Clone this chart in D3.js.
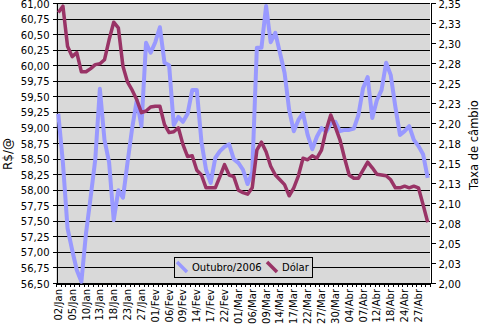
<!DOCTYPE html>
<html><head><meta charset="utf-8">
<script src="https://cdn.jsdelivr.net/npm/d3@7"></script>
<style>body{margin:0;background:#fff} svg{display:block} text{font-family:"DejaVu Sans",Verdana,sans-serif;fill:#000}</style>
</head><body><svg id="c" width="480" height="324"></svg>
<script>
const dates = ["02/Jan","03/Jan","04/Jan","05/Jan","06/Jan","09/Jan","10/Jan","11/Jan","12/Jan","13/Jan","16/Jan","17/Jan","18/Jan","19/Jan","20/Jan","23/Jan","24/Jan","26/Jan","27/Jan","30/Jan","31/Jan",
"01/Fev","02/Fev","03/Fev","06/Fev","07/Fev","08/Fev","09/Fev","10/Fev","13/Fev","14/Fev","15/Fev","16/Fev","17/Fev","20/Fev","21/Fev","22/Fev","23/Fev","24/Fev",
"01/Mar","02/Mar","03/Mar","06/Mar","07/Mar","08/Mar","09/Mar","10/Mar","13/Mar","14/Mar","15/Mar","16/Mar","17/Mar","20/Mar","21/Mar","22/Mar","23/Mar","24/Mar","27/Mar","28/Mar","29/Mar","30/Mar","31/Mar",
"03/Abr","04/Abr","05/Abr","06/Abr","07/Abr","10/Abr","11/Abr","12/Abr","13/Abr","17/Abr","18/Abr","19/Abr","20/Abr","24/Abr","25/Abr","26/Abr","27/Abr","28/Abr",
"02/Mai"];

const outubro = [59.22,58.43,57.38,57.03,56.71,56.52,57.30,57.88,58.48,59.62,58.80,58.44,57.51,57.99,57.87,58.44,58.99,59.44,59.02,60.36,
60.20,60.37,60.61,60.04,60.00,59.04,59.17,59.09,59.22,59.60,59.60,58.77,58.32,58.11,58.51,58.62,58.69,58.73,58.49,58.43,
58.32,58.09,58.28,60.28,60.28,60.95,60.37,60.52,60.20,59.88,59.28,58.94,59.12,59.23,58.88,58.65,58.85,58.99,58.93,59.06,
59.09,58.94,58.96,58.96,58.98,59.20,59.63,59.81,59.15,59.44,59.60,60.04,59.84,59.33,58.88,58.94,59.02,58.80,58.70,58.57,
58.19];

const dolar = [2.338,2.346,2.296,2.283,2.288,2.264,2.264,2.268,2.273,2.274,2.279,2.304,2.326,2.319,2.271,2.251,2.241,2.229,2.213,2.215,
2.220,2.221,2.221,2.198,2.188,2.189,2.194,2.173,2.158,2.159,2.141,2.135,2.119,2.119,2.119,2.133,2.148,2.135,2.133,2.116,
2.113,2.111,2.119,2.166,2.176,2.164,2.146,2.135,2.129,2.123,2.109,2.119,2.134,2.156,2.154,2.159,2.156,2.166,2.191,2.210,
2.195,2.179,2.156,2.135,2.131,2.131,2.141,2.151,2.144,2.136,2.135,2.134,2.129,2.119,2.119,2.121,2.119,2.121,2.119,2.098,
2.076];

const leftTicks = [56.5,56.75,57,57.25,57.5,57.75,58,58.25,58.5,58.75,59,59.25,59.5,59.75,60,60.25,60.5,60.75,61];
const rightTicks = [2.000,2.025,2.050,2.075,2.100,2.125,2.150,2.175,2.200,2.225,2.250,2.275,2.300,2.325,2.350];
const rightTickLabels = ["2,00","2,03","2,05","2,08","2,10","2,13","2,15","2,18","2,20","2,23","2,25","2,28","2,30","2,33","2,35"];
const seriesNames = ["Outubro/2006","Dólar"];
const seriesColors = ["#9999FF","#993366"];

const svg = d3.select("#c");
const L = 56, R = 430, T = 3, B = 283;
const x = d3.scaleBand().domain(dates).range([L, R]).padding(0);
const bw = x.bandwidth();
const yL = d3.scaleLinear().domain([56.5, 61]).range([B, T]);
const yR = d3.scaleLinear().domain([2.0, 2.35]).range([B, T]);
const cx = d => x(d) + bw / 2;

// plot background
svg.append("rect").attr("x", L).attr("y", T).attr("width", R - L).attr("height", B - T).attr("fill", "#d9d9d9");

// gridlines
svg.append("g").selectAll("line").data(leftTicks).join("line")
  .attr("x1", L).attr("x2", R)
  .attr("y1", d => Math.round(yL(d)) + 0.5).attr("y2", d => Math.round(yL(d)) + 0.5)
  .attr("stroke", "#000").attr("stroke-width", 1).attr("shape-rendering", "crispEdges");

// left axis
const fmtL = d => d3.format(".2f")(d).replace(".", ",");
const gl = svg.append("g").attr("transform", `translate(${L + 0.5},0)`)
  .call(d3.axisLeft(yL).tickValues(leftTicks).tickFormat(fmtL).tickSize(4).tickPadding(3));
gl.selectAll("text").attr("font-size", 10).attr("font-family", "DejaVu Sans").attr("dy", "0.4em");
gl.selectAll("line,path").attr("stroke", "#000").attr("shape-rendering", "crispEdges");

// right axis
const gr = svg.append("g").attr("transform", `translate(${R + 0.5},0)`)
  .call(d3.axisRight(yR).tickValues(rightTicks).tickFormat((d, i) => rightTickLabels[i]).tickSize(5).tickPadding(3));
gr.selectAll("text").attr("font-size", 10).attr("font-family", "DejaVu Sans").attr("dy", "0.4em");
gr.selectAll("line,path").attr("stroke", "#000").attr("shape-rendering", "crispEdges");

// bottom axis
const gb = svg.append("g").attr("transform", `translate(0,${B + 0.5})`)
  .call(d3.axisBottom(x).tickSize(0).tickPadding(0).tickFormat(""));
gb.select("path").attr("stroke", "#000").attr("shape-rendering", "crispEdges");
gb.selectAll(".tick").remove();
const bounds = dates.map(d => x(d)).concat([R]);
svg.append("g").selectAll("line").data(bounds).join("line")
  .attr("x1", d => Math.round(d) + 0.5).attr("x2", d => Math.round(d) + 0.5)
  .attr("y1", B).attr("y2", B + 4).attr("stroke", "#000").attr("shape-rendering", "crispEdges");
svg.append("g").selectAll("text").data(dates.filter((d, i) => i % 3 === 0)).join("text")
  .attr("transform", d => `translate(${cx(d)},${B + 6}) rotate(-90)`)
  .attr("text-anchor", "end").attr("dy", "0.35em").attr("font-size", 10).text(d => d);

// lines
const lineL = d3.line().x((d, i) => cx(dates[i])).y(d => yL(d));
const lineR = d3.line().x((d, i) => cx(dates[i])).y(d => yR(d));
svg.append("path").datum(outubro).attr("d", lineL).attr("fill", "none")
  .attr("stroke", seriesColors[0]).attr("stroke-width", 4).attr("stroke-linejoin", "round");
svg.append("path").datum(dolar).attr("d", lineR).attr("fill", "none")
  .attr("stroke", seriesColors[1]).attr("stroke-width", 3.5).attr("stroke-linejoin", "round");

// axis titles
svg.append("text").attr("transform", "translate(12,154) rotate(-90)").attr("text-anchor", "middle")
  .attr("font-size", 12).text("R$/@");
svg.append("text").attr("transform", "translate(478,145) rotate(-90)").attr("text-anchor", "middle")
  .attr("font-size", 11.5).text("Taxa de câmbio");

// legend
const lg = svg.append("g");
lg.append("rect").attr("x", 174.5).attr("y", 257.5).attr("width", 138).attr("height", 20)
  .attr("fill", "#d9d9d9").attr("stroke", "#000").attr("stroke-width", 1);
const legX = [177, 267];
seriesNames.forEach((n, i) => {
  lg.append("line").attr("x1", legX[i]).attr("y1", 262).attr("x2", legX[i] + 10).attr("y2", 272)
    .attr("stroke", seriesColors[i]).attr("stroke-width", 3.5);
  lg.append("text").attr("x", legX[i] + 15).attr("y", 271).attr("font-size", 10).text(n);
});
</script></body></html>
